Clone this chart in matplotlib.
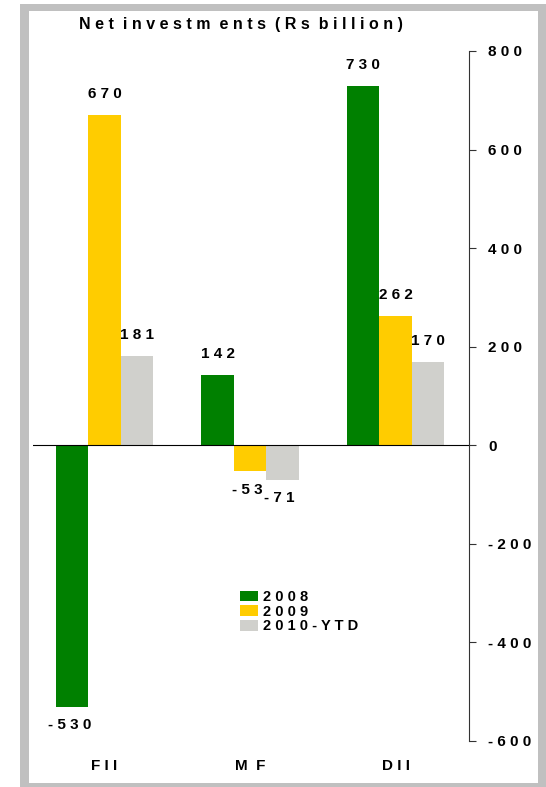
import numpy as np
import matplotlib
matplotlib.use('Agg')
import matplotlib.pyplot as plt
from matplotlib.patches import Rectangle, Patch

plt.rcParams['font.family'] = ['Liberation Sans', 'DejaVu Sans']

categories = ['FII', 'MF', 'DII']
series_names = ['2008', '2009', '2010-YTD']
values_2008 = [-530, 142, 730]
values_2009 = [670, -53, 262]
values_2010 = [181, -71, 170]
y_ticks = [-600, -400, -200, 0, 200, 400, 600, 800]
colors = ['#008000', '#FFCC00', '#D0D0CC']


def spaced(s, gap=' '):
    """Mimic the wide letter spacing of the original chart."""
    return gap.join(list(s))


W, H = 546, 787
fig = plt.figure(figsize=(W / 100, H / 100), dpi=100)

# grey frame round the chart
fig.patches.append(Rectangle((20 / W, 0), 1 - 20 / W, (H - 4) / H,
                             transform=fig.transFigure, facecolor='#C0C0C0',
                             edgecolor='none', zorder=-3))
fig.patches.append(Rectangle((29 / W, 4 / H), (538 - 29) / W, (783 - 11) / H,
                             transform=fig.transFigure, facecolor='white',
                             edgecolor='none', zorder=-2))

ax = fig.add_axes([33 / W, (H - 741) / H, 436 / W, 690 / H])
ax.patch.set_visible(False)

x = np.arange(len(categories))
w = 0.223
all_series = [values_2008, values_2009, values_2010]
for i, (vals, c) in enumerate(zip(all_series, colors)):
    ax.bar(x + (i - 1) * w, vals, width=w, color=c, edgecolor='none', zorder=2)

# value labels
for i, vals in enumerate(all_series):
    for g, v in enumerate(vals):
        xpos = x[g] + (i - 1) * w
        if v >= 0:
            ax.annotate(spaced(str(v)), (xpos, v), xytext=(0, 10),
                        textcoords='offset points', ha='center', va='bottom',
                        fontsize=11, fontweight='bold')
        else:
            ax.annotate(spaced(str(v)), (xpos, v), xytext=(-2, -8),
                        textcoords='offset points', ha='center', va='top',
                        fontsize=11, fontweight='bold')

ax.axhline(0, color='black', lw=0.8, zorder=3)
ax.set_xlim(-0.491, 2.505)
ax.set_ylim(-600, 800)

ax.yaxis.tick_right()
ax.set_yticks(y_ticks)
ax.set_yticklabels([spaced(str(t)) for t in y_ticks], fontsize=11, fontweight='bold')
ax.tick_params(axis='y', direction='out', length=5, width=0.8, pad=9, colors='#333333',
               labelcolor='black')
for side in ['left', 'top', 'bottom']:
    ax.spines[side].set_visible(False)
ax.spines['right'].set_color('#333333')
ax.spines['right'].set_linewidth(0.8)

ax.set_xticks(x)
ax.set_xticklabels(['F I I', 'M  F', 'D I I'], fontsize=11, fontweight='bold')
ax.tick_params(axis='x', length=0, pad=13)

fig.text(79 / W, (H - 25) / H, 'N e t  i n v e s t m  e n t s  ( R s  b i l l i o n )',
         fontsize=11.5, fontweight='bold', ha='left', va='center')

handles = [Patch(facecolor=c, edgecolor='none') for c in colors]
fig.legend(handles, [spaced(s) for s in series_names], loc='upper left',
           bbox_to_anchor=(240 / W, (H - 590) / H), frameon=False,
           prop={'size': 10.5, 'weight': 'bold'}, borderpad=0, borderaxespad=0,
           handlelength=1.2, handleheight=0.75, handletextpad=0.35, labelspacing=0.05)

fig.savefig('out.png', dpi=100)
